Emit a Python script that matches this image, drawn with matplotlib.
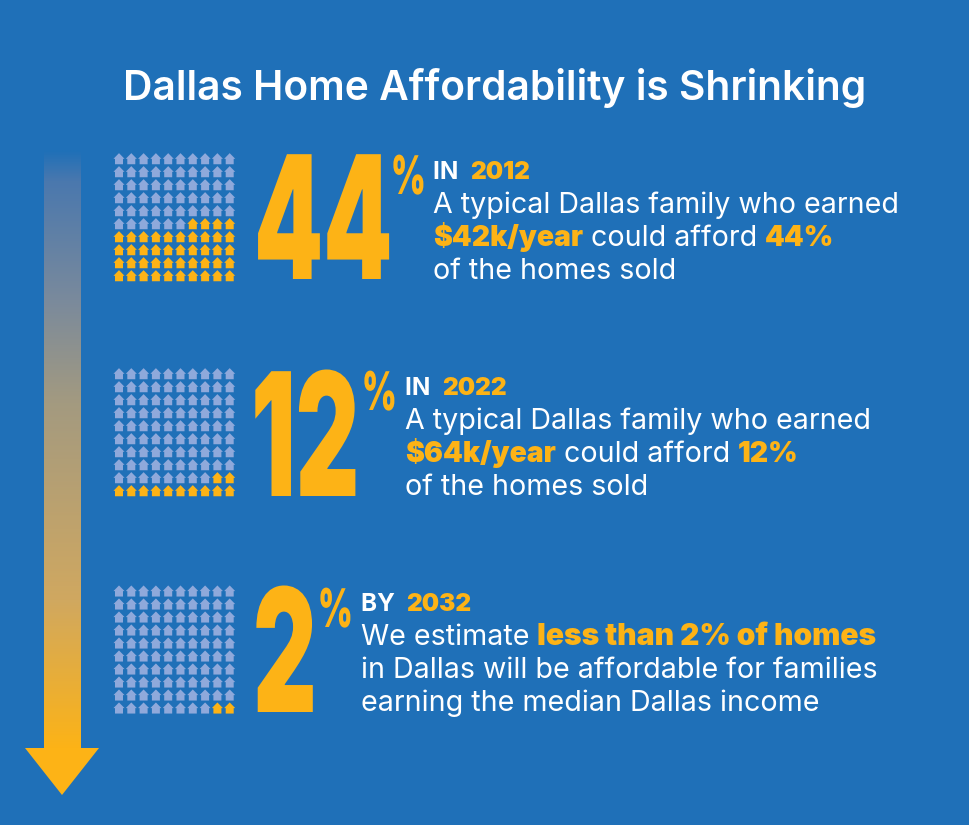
import matplotlib
matplotlib.use("Agg")
import matplotlib.pyplot as plt
import matplotlib.patheffects as pe
from matplotlib.path import Path
from matplotlib.patches import Polygon
from matplotlib.transforms import Affine2D
from matplotlib.colors import LinearSegmentedColormap
import numpy as np

BG = "#1f70b8"
GOLD = "#fdb316"
PALE = "#8fa9db"
WHITE = "#ffffff"

title = "Dallas Home Affordability is Shrinking"
pct_values = [44, 12, 2]
headings = ["IN", "IN", "BY"]
years = ["2012", "2022", "2032"]
# each line is a list of (text, highlighted)
body_lines = [
    [[("A typical Dallas family who earned", False)],
     [("$42k/year", True), (" could afford ", False), ("44%", True)],
     [("of the homes sold", False)]],
    [[("A typical Dallas family who earned", False)],
     [("$64k/year", True), (" could afford ", False), ("12%", True)],
     [("of the homes sold", False)]],
    [[("We estimate ", False), ("less than 2% of homes", True)],
     [("in Dallas will be affordable for families", False)],
     [("earning the median Dallas income", False)]],
]

# layout in pixels
grid_top = [158.7, 373.7, 591]
big_x = [254, 251, 253]
big_base = [279, 496, 712]
pct_x = [391, 362, 318]
pct_base = [194, 410, 627]
text_x = [433, 405, 361]
head_y = [179, 395, 611]
hi_sizes = [20.4, 20.4, 21.6]

fig = plt.figure(figsize=(9.7, 8.25), dpi=100, facecolor=BG)
ax = fig.add_axes([0, 0, 1, 1])
ax.axis("off")

# little house marker
house = Path(np.array([(-1, -0.02), (0, 1), (1, -0.02), (0.72, -0.02), (0.72, -1), (-0.72, -1), (-0.72, -0.02), (-1, -0.02)]), closed=True)

for i, pct in enumerate(pct_values):
    xs, ys, cols = [], [], []
    for row in range(10):
        for col in range(10):
            # fill up from the bottom row, right to left
            rank = (9 - row) * 10 + (9 - col)
            xs.append(119 + col * 12.3)
            ys.append(grid_top[i] + row * 13)
            cols.append(GOLD if rank < pct else PALE)
    ax.scatter(xs, ys, marker=house, s=64, c=cols, linewidths=0)

# gradient arrow shaft
fade = LinearSegmentedColormap.from_list("fade", [(0, BG), (0.05, "#4a78ae"), (0.25, "#7a8a9c"),
                                                  (0.42, "#a39a80"), (0.75, "#d0a860"), (1, GOLD)])
ax.imshow(np.linspace(0, 1, 256).reshape(-1, 1), cmap=fade, extent=(44, 81, 750, 150), aspect="auto", zorder=1)
ax.add_patch(Polygon([(25, 748), (99, 748), (62, 795)], closed=True, fc=GOLD, ec="none", zorder=2))
ax.set_xlim(0, 970)
ax.set_ylim(825, 0)


class StretchY(pe.AbstractPathEffect):
    # makes glyphs taller around the baseline, there is no condensed display font here
    def __init__(self, y0, sy):
        super().__init__()
        self.y0, self.sy = y0, sy

    def draw_path(self, renderer, gc, tpath, affine, rgbFace=None):
        t = affine + Affine2D().translate(0, -self.y0).scale(1, self.sy).translate(0, self.y0)
        renderer.draw_path(gc, tpath, t, rgbFace)


def text_width(s, size, weight):
    # spaces at the ends don't count in the extent, so measure between two guards
    r = fig.canvas.get_renderer()
    a = ax.text(0, 0, "x" + s + "x", fontsize=size, family="Inter", fontweight=weight)
    b = ax.text(0, 0, "xx", fontsize=size, family="Inter", fontweight=weight)
    w = a.get_window_extent(r).width - b.get_window_extent(r).width
    a.remove()
    b.remove()
    return w


def draw_segments(x, y, segments, size, plain_weight="normal", hi_size=None):
    for s, hi in segments:
        weight = "black" if hi else plain_weight
        fs = hi_size if hi and hi_size else size
        ax.text(x, y, s, fontsize=fs, family="Inter", va="baseline", ha="left",
                color=GOLD if hi else WHITE, fontweight=weight)
        x += text_width(s, fs, weight)


ax.text(495, 100, title, fontsize=29.3, family="Inter", fontweight="semibold", color=WHITE, ha="center", va="baseline")

for i, pct in enumerate(pct_values):
    ax.text(big_x[i], big_base[i], str(pct), fontsize=71, family="Inter", fontweight="black",
            color=GOLD, ha="left", va="baseline",
            path_effects=[StretchY(825 - big_base[i], 1.74)])
    ax.text(pct_x[i], pct_base[i], "%", fontsize=24, family="Inter", fontweight="black",
            color=GOLD, ha="left", va="baseline",
            path_effects=[StretchY(825 - pct_base[i], 1.6)])
    draw_segments(text_x[i], head_y[i], [(headings[i] + "  ", False), (years[i], True)], 17.5, "bold")
    for j, line in enumerate(body_lines[i]):
        draw_segments(text_x[i], head_y[i] + 34 + j * 33, line, 20.6, hi_size=hi_sizes[i])

fig.savefig("out.png", dpi=100, facecolor=BG)
